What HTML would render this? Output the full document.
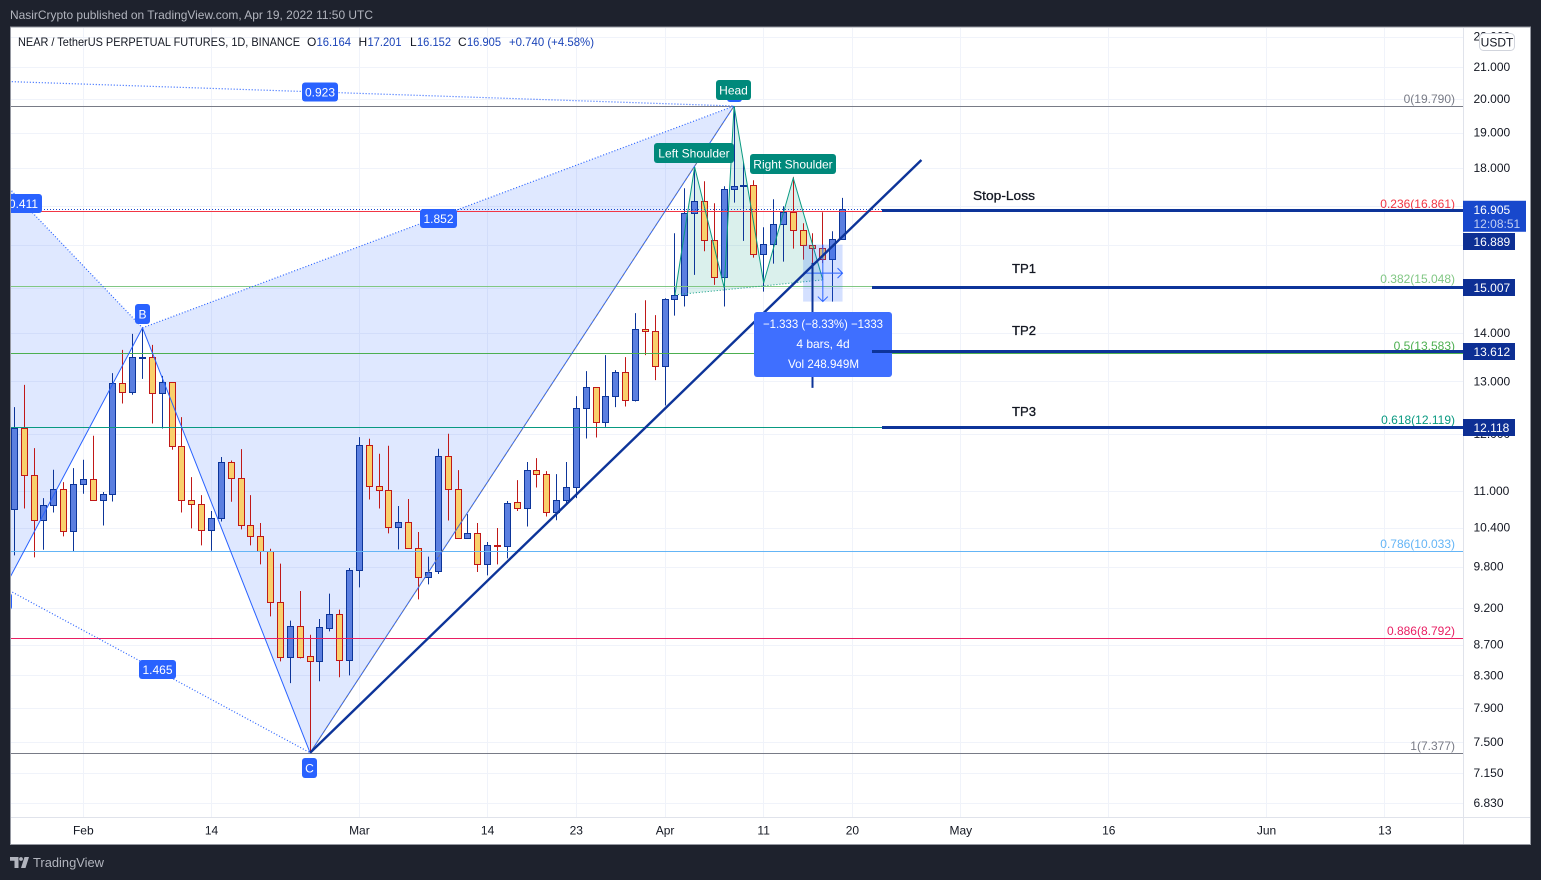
<!DOCTYPE html>
<html lang="en">
<head>
<meta charset="utf-8">
<title>NEAR / TetherUS Perpetual Futures</title>
<style>
html,body{margin:0;padding:0;background:#1e222d;width:1541px;height:880px;overflow:hidden}
svg{display:block;font-family:"Liberation Sans",sans-serif;font-size:12px}
</style>
</head>
<body>
<svg id="root" width="1541" height="880" viewBox="0 0 1541 880" xmlns="http://www.w3.org/2000/svg">
  <defs><clipPath id="plot-clip"><rect x="11" y="28" width="1452" height="789"/></clipPath></defs>
  <rect x="0" y="0" width="1541" height="880" fill="#1e222d"/>
  <text x="10" y="19" fill="#b2b5be" textLength="363" lengthAdjust="spacingAndGlyphs">NasirCrypto published on TradingView.com, Apr 19, 2022 11:50 UTC</text>
  <rect x="10.5" y="27" width="1520" height="817.5" fill="#ffffff" stroke="#9598a1"/>
  <g id="grid"></g>
  <g id="plot" clip-path="url(#plot-clip)">
    <g id="fills"></g>
    <g id="candles"></g>
    <g id="drawings"></g>
  </g>
  <g id="axes"></g>
  <g>
    <text x="18" y="46" fill="#131722" textLength="282" lengthAdjust="spacingAndGlyphs">NEAR / TetherUS PERPETUAL FUTURES, 1D, BINANCE</text>
    <text x="307" y="46" fill="#131722">O</text>
    <text x="316.5" y="46" fill="#1b44b8" textLength="34.5" lengthAdjust="spacingAndGlyphs">16.164</text>
    <text x="358.5" y="46" fill="#131722">H</text>
    <text x="367.5" y="46" fill="#1b44b8" textLength="34" lengthAdjust="spacingAndGlyphs">17.201</text>
    <text x="410" y="46" fill="#131722">L</text>
    <text x="417" y="46" fill="#1b44b8" textLength="34" lengthAdjust="spacingAndGlyphs">16.152</text>
    <text x="458" y="46" fill="#131722">C</text>
    <text x="467" y="46" fill="#1b44b8" textLength="34" lengthAdjust="spacingAndGlyphs">16.905</text>
    <text x="509" y="46" fill="#1b44b8" textLength="85" lengthAdjust="spacingAndGlyphs">+0.740 (+4.58%)</text>
  </g>
  <g>
    <path d="M10 857h8.5v11h-4v-7.2H10zM24.5 857H29l-3.5 11H21z" fill="#b2b5be"/>
    <circle cx="21" cy="859" r="1.9" fill="#b2b5be"/>
    <text x="33" y="867" fill="#b2b5be" font-size="13" textLength="71" lengthAdjust="spacingAndGlyphs">TradingView</text>
  </g>
</svg>
<script>
const opens=[10.699,12.106,11.269,10.521,10.765,11.031,10.347,11.115,11.200,10.847,10.947,12.966,12.801,13.470,13.491,12.770,12.986,11.779,10.847,10.781,10.362,10.554,11.495,11.217,10.442,10.268,10.036,9.286,8.538,8.952,8.551,8.486,8.924,9.117,8.499,9.750,11.797,11.082,11.014,10.410,10.489,10.082,9.646,9.735,11.600,11.031,10.237,10.315,9.839,10.128,10.113,10.814,10.716,11.355,11.286,10.651,10.847,11.065,12.481,12.887,12.217,12.712,13.186,12.634,14.079,14.036,13.307,14.738,14.828,16.804,17.113,16.125,15.241,17.430,17.510,17.536,15.785,16.027,16.524,16.829,16.373,16.003,15.929,15.665,16.164];
const highs=[12.501,12.932,11.743,10.880,11.360,11.149,11.390,11.535,11.965,10.981,13.166,13.641,13.979,14.107,13.746,13.111,12.986,12.311,11.234,10.930,10.667,11.583,11.523,11.725,10.930,10.474,10.071,9.844,9.024,9.442,8.833,9.048,9.404,9.177,9.779,11.941,11.910,11.641,11.784,10.749,10.864,10.331,9.950,11.730,12.002,11.355,10.618,10.474,10.175,10.394,10.831,11.183,11.495,11.565,11.338,11.286,11.495,12.712,13.206,12.887,13.532,13.226,13.491,14.427,14.715,14.383,14.760,16.298,17.456,18.033,17.643,17.062,17.510,19.790,18.163,17.670,16.448,17.165,16.984,17.751,16.549,16.298,16.829,16.348,17.201];
const lows=[9.969,10.709,9.939,10.056,10.644,10.262,10.030,10.952,10.847,10.435,10.824,12.569,12.737,13.051,12.192,12.099,11.712,10.644,10.388,10.122,10.041,10.499,10.819,10.372,10.122,9.833,9.084,8.481,8.204,8.520,7.377,8.227,8.878,8.277,8.302,9.494,10.857,10.709,10.309,10.061,10.082,9.322,9.538,9.690,10.515,10.221,10.237,9.720,9.670,9.833,9.924,10.667,10.419,11.058,10.579,10.518,10.798,10.880,11.916,11.934,12.130,12.501,12.512,12.608,13.532,13.025,12.531,14.374,14.573,15.294,15.857,15.063,14.573,17.077,16.108,15.703,14.910,15.560,15.608,15.920,15.655,15.577,15.570,14.684,16.152];
const closes=[12.106,11.269,10.521,10.765,11.031,10.347,11.115,11.200,10.847,10.947,12.966,12.801,13.491,13.491,12.770,12.986,11.779,10.847,10.781,10.362,10.554,11.495,11.217,10.442,10.268,10.036,9.286,8.538,8.952,8.538,8.486,8.938,9.117,8.499,9.750,11.797,11.082,11.014,10.410,10.489,10.082,9.646,9.720,11.600,11.031,10.237,10.315,9.839,10.128,10.113,10.798,10.716,11.355,11.286,10.651,10.847,11.065,12.481,12.887,12.217,12.712,13.186,12.634,14.079,14.036,13.307,14.738,14.828,16.804,17.113,16.125,15.241,17.430,17.510,17.536,15.785,16.027,16.524,16.829,16.373,16.003,15.929,15.665,16.149,16.905];

const priceTicks=[22,21,20,19,18,17,16,15,14,13,12,11,10.4,9.8,9.2,8.7,8.3,7.9,7.5,7.15,6.83];
const dateTickIndex=[7,20,35,48,57,66,76,85,96,111,127,139];
const dateTickLabels=['Feb','14','Mar','14','23','Apr','11','20','May','16','Jun','13'];

const fibRatios=['0','0.236','0.382','0.5','0.618','0.786','0.886','1'];
const fibPrices=[19.790,16.861,15.048,13.583,12.119,10.033,8.792,7.377];
const fibColors=['#787b86','#f23645','#81c784','#4caf50','#089981','#64b5f6','#e91e63','#787b86'];

const targetPrices=[16.889,15.007,13.612,12.118];

const harmonicIndex=[-11.2,-1,13,30,73];
const harmonicPrices=[20.653,9.487,14.107,7.377,19.790];

const trendIndex=[30,92];
const trendPrices=[7.377,18.226];

const hsIndex=[67,69,72,73,76,79,82];
const hsPrices=[14.835,18.033,14.994,19.790,15.109,17.730,15.178];

const rangeIndex=[80,84];
const rangePrices=[16.017,14.684];
const lastPrice=16.905;

const SVGNS='http://www.w3.org/2000/svg';
function x(i){return 14.3+9.86*i;}
function y(p){return 106+655.4*Math.log(19.79/p);}
function mk(parent,tag,attrs,txt){
  const el=document.createElementNS(SVGNS,tag);
  for(const k in attrs){el.setAttribute(k,attrs[k]);}
  if(txt!==undefined){el.textContent=txt;}
  parent.appendChild(el);
  return el;
}
const grid=document.getElementById('grid');
const fills=document.getElementById('fills');
const candles=document.getElementById('candles');
const drawings=document.getElementById('drawings');
const axes=document.getElementById('axes');

priceTicks.forEach(function(p){
  const g=mk(grid,'line',{x1:11,x2:1463,y1:Math.round(y(p))+.5,y2:Math.round(y(p))+.5,stroke:'#f0f3fa'});
  
  
});
dateTickIndex.forEach(function(i){
  const g=mk(grid,'line',{x1:Math.floor(x(i))+.5,x2:Math.floor(x(i))+.5,y1:28,y2:817,stroke:'#f0f3fa'});
  
  
});

closes.forEach(function(c,i){
  const o=opens[i],h=highs[i],l=lows[i];
  const up=c>=o;
  const edge=up?'#0d3599':'#c01818';
  const fill=up?'#5b7fe0':'#f9d06c';
  const cx=Math.floor(x(i))+.5;
  const top=Math.round(y(Math.max(o,c)));
  const bot=Math.round(y(Math.min(o,c)));
  const g=mk(candles,'g',{});
  
  
  const w=mk(g,'line',{x1:cx,x2:cx,y1:y(h),y2:y(l),stroke:edge,'stroke-width':1});
  
  
  const b=mk(g,'rect',{x:cx-3,y:top+.5,width:6,height:Math.max(bot-top,1),fill:fill,stroke:edge,'stroke-width':1});
  
  
});

fibPrices.forEach(function(p,k){
  const ly=Math.round(y(p))+.5;
  const line=mk(drawings,'line',{x1:11,x2:1463,y1:ly,y2:ly,stroke:fibColors[k],'stroke-width':1});
  
  
  const t=mk(drawings,'text',{x:1455,y:ly-3.5,fill:fibColors[k],'text-anchor':'end'},fibRatios[k]+'('+p.toFixed(3)+')');
  
  
});

const lp=mk(drawings,'line',{x1:11,x2:1463,y1:Math.round(y(lastPrice))+.5,y2:Math.round(y(lastPrice))+.5,stroke:'#1848cc','stroke-width':1,'stroke-dasharray':'1 2'});



const H=harmonicIndex.map(function(i,k){return [x(i),y(harmonicPrices[k])];});
function pts(a){return a.map(function(q){return q[0]+','+q[1];}).join(' ');}
const tri1=mk(fills,'polygon',{points:pts([H[0],H[1],H[2]]),fill:'rgba(41,98,255,.15)'});


const tri2=mk(fills,'polygon',{points:pts([H[2],H[3],H[4]]),fill:'rgba(41,98,255,.15)'});


const hLeg=mk(drawings,'polyline',{points:pts(H.slice(1)),fill:'none',stroke:'#2962ff','stroke-width':1});


const cdDash=mk(drawings,'line',{x1:H[3][0],y1:H[3][1],x2:H[4][0],y2:H[4][1],stroke:'#787b86','stroke-width':1,'stroke-dasharray':'3 3'});


[[0,2],[1,3],[0,4],[2,4]].forEach(function(pair){
  const d=mk(drawings,'line',{x1:H[pair[0]][0],y1:H[pair[0]][1],x2:H[pair[1]][0],y2:H[pair[1]][1],stroke:'#2962ff','stroke-width':1.2,'stroke-dasharray':'1 2'});
  
  
});

const hsP=hsIndex.map(function(i,k){return [x(i),y(hsPrices[k])];});
const hsFill=mk(fills,'polygon',{points:pts(hsP),fill:'rgba(8,153,129,.15)'});


const hsLine=mk(drawings,'polyline',{points:pts(hsP),fill:'none',stroke:'#089981','stroke-width':1});


const hsBase=mk(drawings,'line',{x1:hsP[0][0],y1:hsP[0][1],x2:hsP[6][0],y2:hsP[6][1],stroke:'#089981','stroke-width':1,'stroke-dasharray':'1 2'});



const rx1=x(rangeIndex[0]),rx2=x(rangeIndex[1]),ry1=y(rangePrices[0]),ry2=y(rangePrices[1]);
const rx=(rx1+rx2)/2,rym=(ry1+ry2)/2;
const rr=mk(drawings,'rect',{x:rx1,y:ry1,width:rx2-rx1,height:ry2-ry1,fill:'rgba(41,98,255,.2)'});


const ra=mk(drawings,'path',{d:'M'+rx1+' '+rym+'H'+rx2+'m-5 -5l5 5l-5 5M'+rx+' '+ry1+'V'+ry2+'m-5 -5l5 5l5 -5',fill:'none',stroke:'#2962ff','stroke-width':1});



const tl=mk(drawings,'line',{x1:x(trendIndex[0]),y1:y(trendPrices[0]),x2:x(trendIndex[1]),y2:y(trendPrices[1]),stroke:'#0d3499','stroke-width':2.4});


const vl=mk(drawings,'line',{x1:Math.floor(x(81))+.5,x2:Math.floor(x(81))+.5,y1:y(15.577),y2:y(12.873),stroke:'#0d3499','stroke-width':2});



const tip=mk(drawings,'g',{});


const tipBox=mk(tip,'rect',{x:754,y:312,width:138,height:65,rx:3,fill:'#3f6fff'});


const tip1=mk(tip,'text',{x:763,y:328,fill:'#fff',textLength:120,lengthAdjust:'spacingAndGlyphs'},'\u22121.333 (\u22128.33%) \u22121333');


const tip2=mk(tip,'text',{x:823,y:348,fill:'#fff','text-anchor':'middle'},'4 bars, 4d');


const tip3=mk(tip,'text',{x:788,y:368,fill:'#fff',textLength:71,lengthAdjust:'spacingAndGlyphs'},'Vol 248.949M');



function target(k,label,startX,lblX,lblW,lblGap,lblShift){
  const p=targetPrices[k];
  const ly=Math.round(y(p))+.5;
  const l=mk(drawings,'line',{x1:startX,x2:1463,y1:ly,y2:ly,stroke:'#0d3499','stroke-width':3});
  
  
  const t=mk(drawings,'text',{x:lblX,y:ly-lblGap+4.5,fill:'#131722','font-size':13,stroke:'#131722','stroke-width':.3,textLength:lblW,lengthAdjust:'spacingAndGlyphs'},label);
  
  
  return [p,ly+lblShift];
}

function pill(parent,cx,cy,w,h,fill,txt,name){
  const g=mk(parent,'g',{});
  
  
  const r=mk(g,'rect',{x:cx-w/2,y:cy-h/2,width:w,height:h,rx:3,fill:fill});
  
  
  const t=mk(g,'text',{x:cx,y:cy+4.3,fill:'#ffffff','text-anchor':'middle'},txt);
  
  
}
pill(drawings,320,92,36,19,'#2962ff','0.923','ratio-label-xd');
pill(drawings,438.5,218.5,37,19,'#2962ff','1.852','ratio-label-bd');
pill(drawings,23.5,203.5,37,19,'#2962ff','0.411','ratio-label-ab');
pill(drawings,157.5,669.5,37,19,'#2962ff','1.465','ratio-label-ac');
pill(drawings,142.5,314,15,20,'#2962ff','B','point-label-b');
pill(drawings,309.5,768,15,20,'#2962ff','C','point-label-c');
pill(drawings,3,601.5,18,17,'#2962ff','A','point-label-a');
pill(drawings,734.5,93,15,18,'#2962ff','D','point-label-d');
pill(drawings,733.5,90,35,20,'#00897b','Head','head-label');
pill(drawings,694,153,80,20,'#00897b','Left Shoulder','left-shoulder-label');
pill(drawings,793,164,86,20,'#00897b','Right Shoulder','right-shoulder-label');

const slBox=target(0,'Stop-Loss',882,973,62,15,31);
const tp1Box=target(1,'TP1',872,1012,24,19,0);
const tp2Box=target(2,'TP2',872,1012,24,21,0);
const tp3Box=target(3,'TP3',882,1012,24,16,0);

const pDiv=mk(axes,'line',{x1:1463.5,x2:1463.5,y1:28,y2:844,stroke:'#e0e3eb'});


const tDiv=mk(axes,'line',{x1:11,x2:1530,y1:817.5,y2:817.5,stroke:'#e0e3eb'});



priceTicks.forEach(function(p){
  const t=mk(axes,'text',{x:1473.5,y:y(p)+4,fill:'#131722'},p.toFixed(3));
  
  
});
dateTickIndex.forEach(function(i,k){
  const t=mk(axes,'text',{x:x(i),y:834.5,fill:'#131722','text-anchor':'middle'},dateTickLabels[k]);
  
  
});

[slBox,tp1Box,tp2Box,tp3Box].forEach(function(b){
  const g=mk(axes,'g',{});
  
  
  const r=mk(g,'rect',{x:1463,y:b[1]-8.5,width:52,height:17,fill:'#0d2f94'});
  
  
  const t=mk(g,'text',{x:1473.5,y:b[1]+4.5,fill:'#ffffff'},b[0].toFixed(3));
  
  
});

const ly0=y(lastPrice);
const lastBox=mk(axes,'rect',{x:1463,y:ly0-8.5,width:63,height:31,fill:'#1848cc'});


const lastTxt=mk(axes,'text',{x:1473.5,y:ly0+4.5,fill:'#ffffff'},lastPrice.toFixed(3));


const cdTxt=mk(axes,'text',{x:1473.5,y:ly0+18.5,fill:'#c3d0f3'},'12:08:51');



const cur=mk(axes,'rect',{x:1479.5,y:33.5,width:35,height:17,rx:4,fill:'#ffffff',stroke:'#d1d4dc'});


const curT=mk(axes,'text',{x:1497,y:46.5,fill:'#131722','text-anchor':'middle'},'USDT');


</script>
</body>
</html>
